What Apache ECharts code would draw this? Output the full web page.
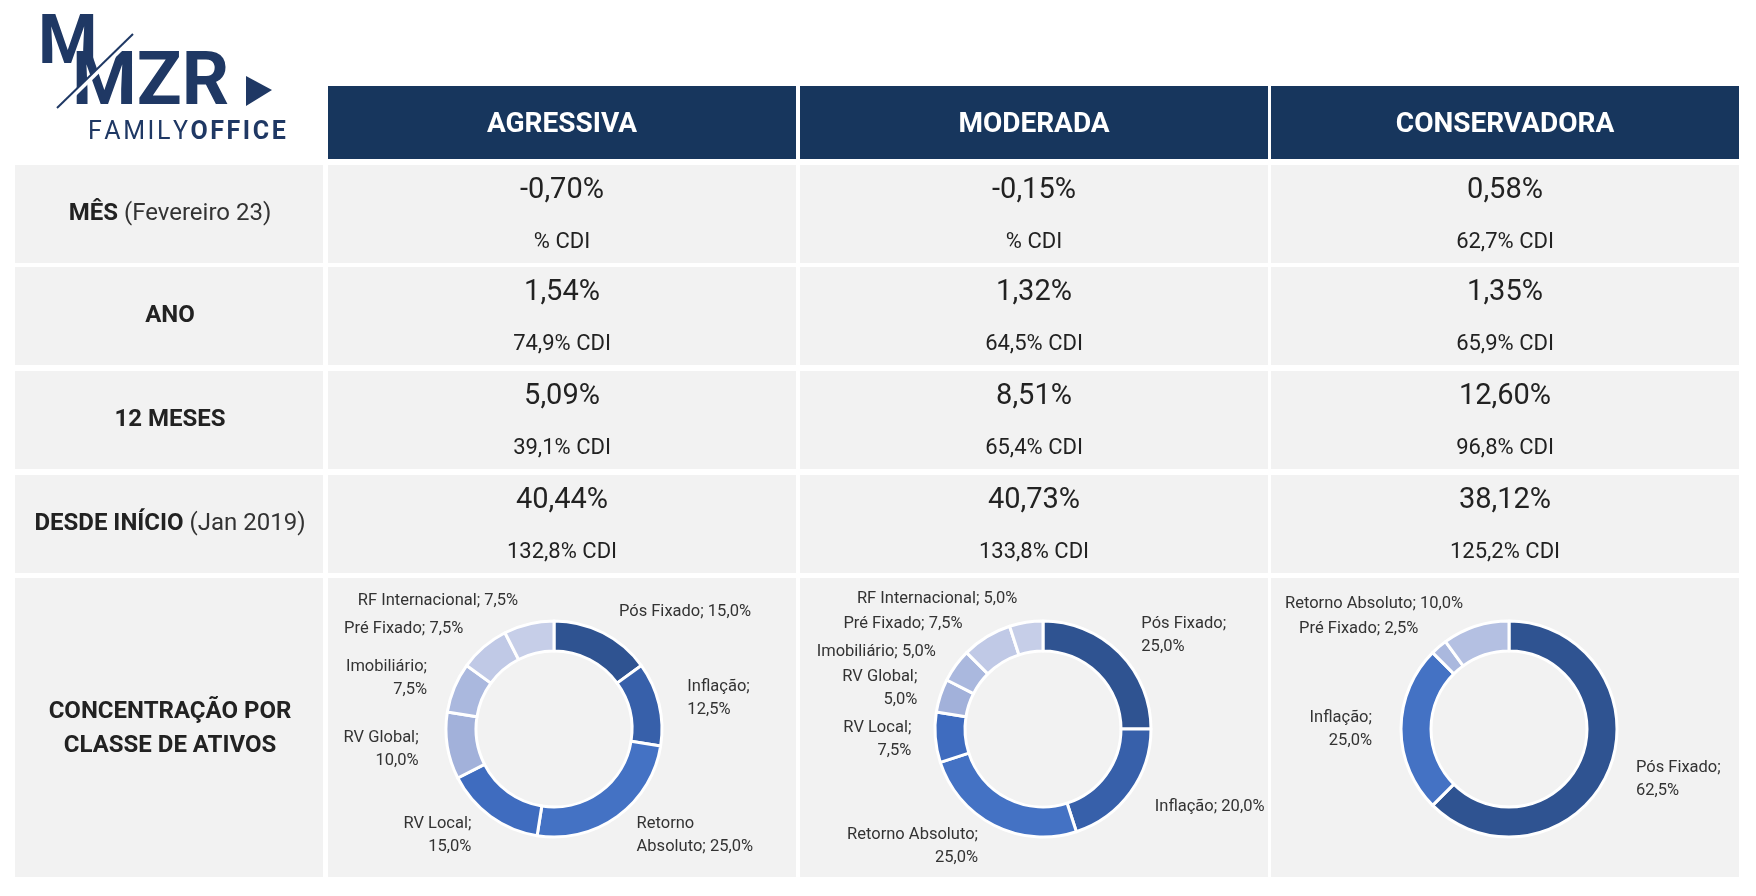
<!DOCTYPE html>
<html><head><meta charset="utf-8">
<script src="https://cdn.jsdelivr.net/npm/echarts@6/dist/echarts.min.js"></script>
<style>html,body{margin:0;background:#fff}#c{width:1756px;height:896px}</style>
</head><body><div id="c"></div>
<script>
var profiles = ['AGRESSIVA', 'MODERADA', 'CONSERVADORA'];
var rowLabels = [['MÊS', ' (Fevereiro 23)'], ['ANO', ''], ['12 MESES', ''], ['DESDE INÍCIO', ' (Jan 2019)']];
var returns = [
  ['-0,70%', '-0,15%', '0,58%'],
  ['1,54%', '1,32%', '1,35%'],
  ['5,09%', '8,51%', '12,60%'],
  ['40,44%', '40,73%', '38,12%']
];
var cdi = [
  ['% CDI', '% CDI', '62,7% CDI'],
  ['74,9% CDI', '64,5% CDI', '65,9% CDI'],
  ['39,1% CDI', '65,4% CDI', '96,8% CDI'],
  ['132,8% CDI', '133,8% CDI', '125,2% CDI']
];
var classNames = ['Pós Fixado', 'Inflação', 'Retorno Absoluto', 'RV Local', 'RV Global', 'Imobiliário', 'Pré Fixado', 'RF Internacional'];
var agressiva = [15, 12.5, 25, 15, 10, 7.5, 7.5, 7.5];
var moderada = [25, 20, 25, 7.5, 5, 5, 7.5, 5];
var consNames = ['Pós Fixado', 'Inflação', 'Pré Fixado', 'Retorno Absoluto'];
var conservadora = [62.5, 25, 2.5, 10];
// label wrapping: 0 = one line, 1 = value on second line, 2 = break inside name
var agrWrap = [0, 1, 2, 1, 1, 1, 0, 0];
var modWrap = [1, 0, 1, 1, 1, 0, 0, 0];
var consWrap = [1, 1, 0, 0];
var classColors = ['#2f5391', '#3760aa', '#4472c4', '#3f6cbf', '#a2b1da', '#aab8de', '#c0c9e6', '#c6cee8'];
var consColors = ['#2f5391', '#4472c4', '#aab8de', '#b4c0e2'];

var chart = echarts.init(document.getElementById('c'));
var colX = [328, 800, 1271], colW = 468;
var rowY = [165, 267, 371, 475], rowH = 98;
var g = [];
var navy = '#17365d', logo = '#1f3864';
function spaced(s) { return s.split('').join('\u200a'); }
// logo
g.push({type: 'text', left: 38, top: 12, style: {text: 'M', font: 'bold 68px Roboto', fill: logo}});
g.push({type: 'text', left: 72, top: 48, style: {text: 'MZR', font: 'bold 74px Roboto', fill: logo}});
g.push({type: 'line', shape: {x1: 60, y1: 108, x2: 136, y2: 34}, style: {stroke: '#fff', lineWidth: 5}});
g.push({type: 'line', shape: {x1: 57, y1: 108, x2: 133, y2: 34}, style: {stroke: logo, lineWidth: 2}});
g.push({type: 'polygon', shape: {points: [[246, 76], [272, 90], [246, 106]]}, style: {fill: logo}});
g.push({type: 'text', left: 88, top: 120, style: {rich: {a: {font: '25px Roboto', fill: logo}, b: {font: 'bold 25px Roboto', fill: logo}}, text: '{a|' + spaced('FAMILY') + '\u200a}{b|' + spaced('OFFICE') + '}'}});
// header
profiles.forEach(function (p, i) {
  g.push({type: 'rect', shape: {x: colX[i], y: 86, width: colW, height: 73}, style: {fill: navy}});
  g.push({type: 'text', x: colX[i] + colW / 2, y: 125, style: {text: p, font: 'bold 28px Roboto', fill: '#fff', align: 'center', verticalAlign: 'middle'}});
});
// rows
rowLabels.forEach(function (lab, r) {
  var y = rowY[r];
  g.push({type: 'rect', shape: {x: 15, y: y, width: 308, height: rowH}, style: {fill: '#f2f2f2'}});
  g.push({type: 'text', x: 170, y: y + rowH / 2, style: {rich: {b: {font: 'bold 24px Roboto', fill: '#222'}, n: {font: '24px Roboto', fill: '#333'}}, text: '{b|' + lab[0] + '}' + (lab[1] ? '{n|' + lab[1] + '}' : ''), align: 'center', verticalAlign: 'middle'}});
  for (var i = 0; i < 3; i++) {
    g.push({type: 'rect', shape: {x: colX[i], y: y, width: colW, height: rowH}, style: {fill: '#f2f2f2'}});
    g.push({type: 'text', x: colX[i] + colW / 2, y: y + 26, style: {text: returns[r][i], font: '29px Roboto', fill: '#222', align: 'center', verticalAlign: 'middle'}});
    g.push({type: 'text', x: colX[i] + colW / 2, y: y + 77, style: {text: cdi[r][i], font: '22px Roboto', fill: '#222', align: 'center', verticalAlign: 'middle'}});
  }
});
g.push({type: 'rect', shape: {x: 15, y: 578, width: 308, height: 299}, style: {fill: '#f2f2f2'}});
g.push({type: 'text', x: 170, y: 729, style: {text: 'CONCENTRAÇÃO POR\nCLASSE DE ATIVOS', font: 'bold 24px Roboto', lineHeight: 34, fill: '#222', align: 'center', verticalAlign: 'middle'}});
for (var i = 0; i < 3; i++) g.push({type: 'rect', shape: {x: colX[i], y: 578, width: colW, height: 299}, style: {fill: '#f2f2f2'}});

function fmt(v) { return v.toFixed(1).replace('.', ','); }
function pie(cx, names, vals, colors, wrap) {
  return {
    type: 'pie', center: [cx, 729], radius: [78, 108], startAngle: 90, clockwise: true,
    silent: true, z: 5,
    itemStyle: {borderColor: '#fff', borderWidth: 3},
    label: {show: true, position: 'outside', color: '#333', fontFamily: 'Roboto', fontSize: 16.5, lineHeight: 23, align: 'center',
      formatter: function (p) {
        var w = wrap[p.dataIndex], n = p.name, v = fmt(p.value) + '%';
        if (w === 2) return n.replace(' ', '\n') + '; ' + v;
        return n + ';' + (w ? '\n' : ' ') + v;
      }},
    labelLine: {show: false, length: 24, length2: 0},
    data: names.map(function (n, k) { return {name: n, value: vals[k], itemStyle: {color: colors[k]}}; })
  };
}
chart.setOption({
  animation: false,
  graphic: g,
  series: [
    pie(554, classNames, agressiva, classColors, agrWrap),
    pie(1043, classNames, moderada, classColors, modWrap),
    pie(1509, consNames, conservadora, consColors, consWrap)
  ]
});
</script></body></html>
